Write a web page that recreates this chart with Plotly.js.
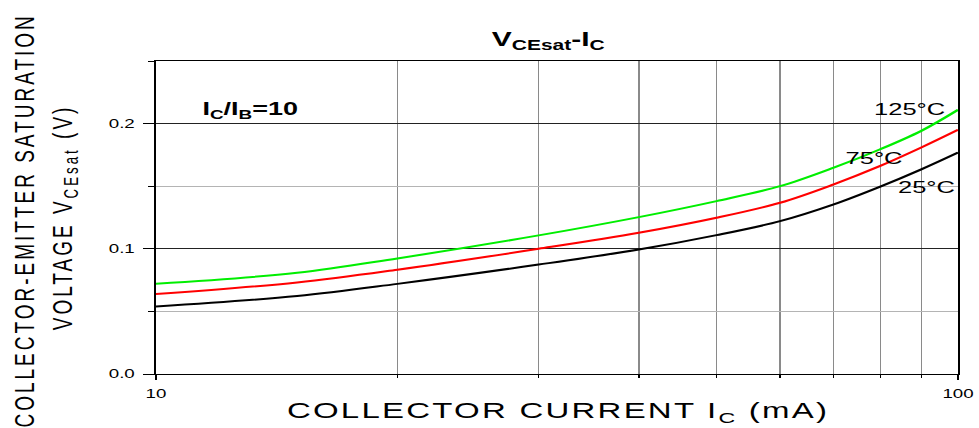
<!DOCTYPE html>
<html><head><meta charset="utf-8">
<script src="https://cdn.plot.ly/plotly-3.0.1.min.js"></script>
<style>
html,body{margin:0;padding:0;background:#fff;overflow:hidden;}
#chart{width:653px;height:428px;transform:scaleX(1.4992);transform-origin:0 0;}
</style></head><body><div id="chart"></div>
<script>
// Collector current (mA)
const currentMA = [10, 15, 20, 30, 40, 50, 60, 70, 80, 90, 100];
// VCE(sat) in volts per temperature
const vce125 = [0.0721, 0.0808, 0.0923, 0.1107, 0.1253, 0.1381, 0.1500, 0.1648, 0.1795, 0.1942, 0.2110];
const vce75  = [0.0638, 0.0731, 0.0833, 0.1000, 0.1128, 0.1248, 0.1368, 0.1515, 0.1662, 0.1809, 0.1950];
const vce25  = [0.0539, 0.0623, 0.0720, 0.0874, 0.0994, 0.1109, 0.1221, 0.1355, 0.1497, 0.1635, 0.1769];
const seriesNames = ['125°C', '75°C', '25°C'];
const xTickVals = [10, 100];
const xTickText = ['10', '100'];
const xMinorVals = [20, 30, 40, 50, 60, 70, 80, 90];
const yTickVals = [0, 0.1, 0.2];
const yTickText = ['0.0', '0.1', '0.2'];

const FONT = '"Liberation Sans", Arial, sans-serif';
const mk = (y, name, color) => ({
  x: currentMA, y: y, name: name, type: 'scatter', mode: 'lines',
  line: {color: color, width: 2, shape: 'spline', smoothing: 1},
  hoverinfo: 'x+y+name'
});
const data = [
  mk(vce125, seriesNames[0], '#00ee00'),
  mk(vce75, seriesNames[1], '#ff0000'),
  mk(vce25, seriesNames[2], '#000000')
];

const ann = (text, x, y, size, extra) => Object.assign({
  text: text, x: x, y: y, xref: 'paper', yref: 'paper', showarrow: false,
  xanchor: 'center', yanchor: 'middle', font: {family: FONT, size: size, color: '#000'}
}, extra || {});

const layout = {
  width: 653, height: 428, autosize: false,
  margin: {l: 104, r: 14, t: 61, b: 54, pad: 0},
  paper_bgcolor: '#fff', plot_bgcolor: '#fff',
  showlegend: false,
  font: {family: FONT, size: 12.5, color: '#000'},
  xaxis: {
    type: 'log', range: [1, 2],
    tickvals: xTickVals, ticktext: xTickText,
    ticks: 'outside', ticklen: 5, tickwidth: 1.6, tickcolor: '#000',
    ticklabelstandoff: 3,
    showgrid: false,
    minor: {tickvals: xMinorVals, ticks: 'outside', ticklen: 3, tickwidth: 1, tickcolor: '#000',
            showgrid: true, gridcolor: '#8a8a8a', gridwidth: 1},
    showline: true, linecolor: '#000', linewidth: 1, mirror: true,
    zeroline: false, tickfont: {family: FONT, size: 12.5, color: '#000'}
  },
  yaxis: {
    range: [0, 0.25],
    tickvals: yTickVals, ticktext: yTickText,
    ticks: 'outside', ticklen: 7, tickwidth: 1, tickcolor: '#000',
    ticklabelstandoff: 3,
    showgrid: true, gridcolor: '#222', gridwidth: 1,
    minor: {dtick: 0.05, tick0: 0, ticks: 'outside', ticklen: 4, tickcolor: '#000',
            showgrid: true, gridcolor: '#b4b4b4', gridwidth: 1},
    showline: true, linecolor: '#000', linewidth: 1.6, mirror: true,
    zeroline: false, tickfont: {family: FONT, size: 12.5, color: '#000'}
  },
  annotations: [
    ann('COLLECTOR-EMITTER SATURATION', -0.1633, 0.489, 19, {textangle: -90}),
    ann('VOLTAGE V<sub>CEsat</sub> (V)', -0.1135, 0.5016, 19, {textangle: -90}),
    ann('COLLECTOR CURRENT I<sub>C</sub> (mA)', 0.5006, -0.122, 22),
    ann('<b>V<sub>CEsat</sub>-I<sub>C</sub></b>', 0.488, 1.067, 20),
    ann('<b>I<sub>C</sub>/I<sub>B</sub>=10</b>', 0.118, 0.843, 18),
    ann(seriesNames[0], 0.940, 0.8466, 17),
    ann(seriesNames[1], 0.896, 0.687, 17),
    ann(seriesNames[2], 0.961, 0.597, 17)
  ]
};

Plotly.newPlot('chart', data, layout, {staticPlot: true, displayModeBar: false}).then(function () {
  const spacing = {0: '3px', 1: '3px', 2: '1.5px'};
  Object.keys(spacing).forEach(function (i) {
    const t = document.querySelector('.annotation[data-index="' + i + '"] text');
    if (t) t.style.letterSpacing = spacing[i];
  });
});
</script></body></html>
